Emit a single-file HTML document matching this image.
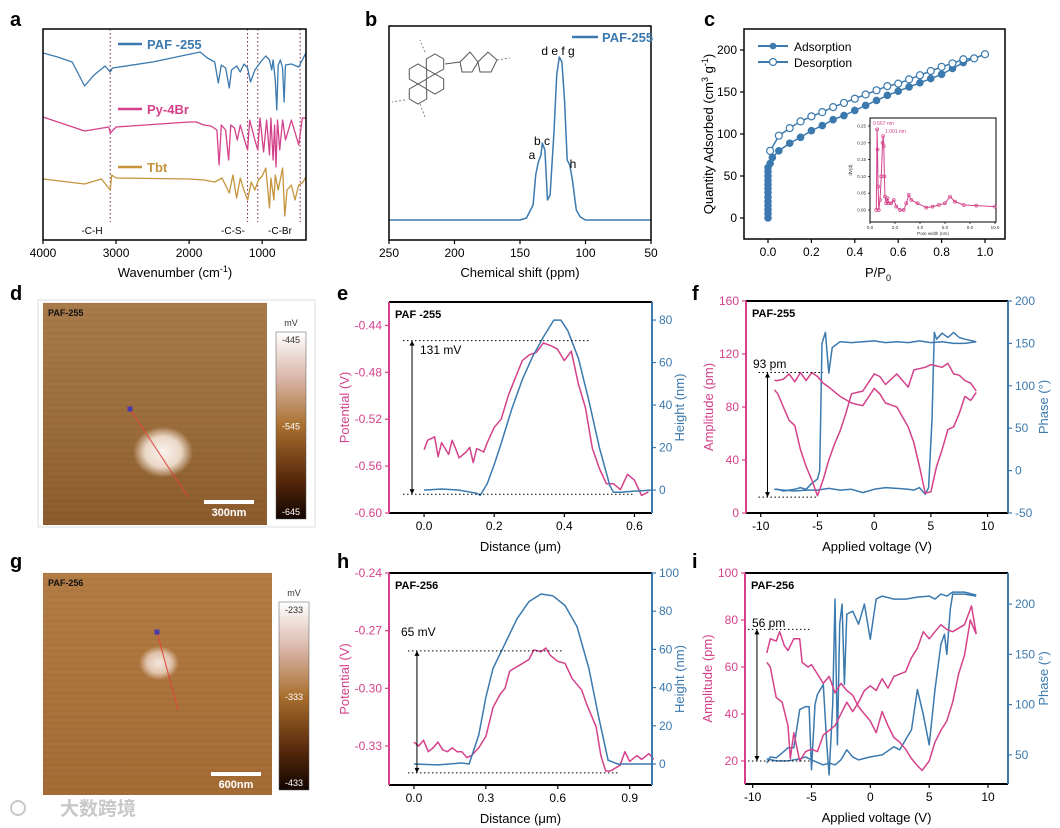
<!DOCTYPE html>
<html><head><meta charset="utf-8">
<style>
html,body{margin:0;padding:0;background:#fff;}
svg{display:block;font-family:"Liberation Sans","Noto Sans CJK SC",sans-serif;}
</style></head>
<body>
<svg id="fig" width="1060" height="828" viewBox="0 0 1060 828" xmlns="http://www.w3.org/2000/svg">
<defs>
<linearGradient id="cbar" x1="0" y1="0" x2="0" y2="1">
<stop offset="0" stop-color="#ffffff"/><stop offset="0.25" stop-color="#d9b5a8"/><stop offset="0.5" stop-color="#a9702f"/><stop offset="0.78" stop-color="#5a2a0c"/><stop offset="1" stop-color="#120500"/>
</linearGradient>
<linearGradient id="afmd" x1="0" y1="0" x2="0" y2="1">
<stop offset="0" stop-color="#a87a4a"/><stop offset="0.5" stop-color="#9c6d3c"/><stop offset="1" stop-color="#8a5a2c"/>
</linearGradient>
<linearGradient id="afmg" x1="0" y1="0" x2="0" y2="1">
<stop offset="0" stop-color="#b27c44"/><stop offset="1" stop-color="#a36a34"/>
</linearGradient>
<radialGradient id="blob"><stop offset="0" stop-color="#fbf4ee"/><stop offset="0.6" stop-color="#ead7c6"/><stop offset="1" stop-color="#ead7c6" stop-opacity="0"/></radialGradient>
<radialGradient id="blob2"><stop offset="0" stop-color="#f4e6dc"/><stop offset="0.6" stop-color="#e0c4ad"/><stop offset="1" stop-color="#e0c4ad" stop-opacity="0"/></radialGradient>
</defs>
</svg>
<script>
// ---------- DATA ----------
// a: FTIR (wavenumber, relative transmittance a.u.)
const ftirWn1 = [4000,3800,3600,3430,3300,3150,3080,3050,2500,1850,1750,1650,1600,1560,1500,1450,1420,1350,1300,1250,1200,1160,1100,1050,1000,950,900,870,850,820,800,780,750,720,700,680,600,500,430,400];
const ftirPAF = [187,183,178,154,165,174,168,172,178,188,182,178,157,175,172,152,170,174,168,176,172,158,170,175,180,184,180,170,180,160,130,175,180,172,138,175,176,173,183,187];
const ftirWn2 = [4000,3430,3100,3080,3000,2000,1900,1800,1700,1620,1590,1560,1500,1460,1430,1380,1340,1300,1250,1200,1170,1100,1060,1030,980,940,900,880,850,830,810,790,760,720,680,600,500,450,400];
const ftirPy = [123,109,113,107,113,118,118,115,114,110,75,115,110,80,115,112,100,115,102,90,120,100,90,122,88,120,85,122,80,115,73,120,90,120,100,120,95,122,122];
const ftirWn3 = [4000,3430,3200,3080,3060,3000,2000,1800,1650,1550,1450,1400,1350,1300,1250,1200,1150,1100,1050,1000,950,900,880,840,820,780,720,690,660,600,550,500,450,400];
const ftirTbt = [61,56,61,50,65,62,61,60,58,62,47,65,42,62,50,40,58,50,60,64,72,32,62,40,65,50,72,24,50,55,40,55,57,63];
const ftirTicks = [4000,3000,2000,1000];
const ftirMarks = [3080,1200,1060,480];
// b: NMR
const nmrPpm = [250,200,150,145,140,138,136,134,133,131,129,127,124,122,120,118,116,114,112,110,107,104,100,75,50];
const nmrInt = [20,20,20,22,35,65,78,85,97,90,40,45,110,165,183,178,140,80,75,60,30,23,20,20,20];
const nmrTicks = [250,200,150,100,50];
// c: isotherm
const adsP = [0,0,0,0,0,0,0,0,0,0,0,0,0,0.01,0.02,0.05,0.1,0.15,0.2,0.25,0.3,0.35,0.4,0.45,0.5,0.55,0.6,0.65,0.7,0.75,0.8,0.85,0.9,0.95,1.0];
const adsQ = [0,5,10,15,20,25,30,35,40,45,50,55,60,65,72,80,89,96,104,110,117,122,128,134,140,146,151,156,161,166,171,178,185,190,195];
const desP = [1.0,0.95,0.9,0.85,0.8,0.75,0.7,0.65,0.6,0.55,0.5,0.45,0.4,0.35,0.3,0.25,0.2,0.15,0.1,0.05,0.01];
const desQ = [195,190,189,184,180,175,170,165,160,157,152,147,142,137,132,126,121,115,107,98,80];
const cXTicks = [0,0.2,0.4,0.6,0.8,1.0];
const cYTicks = [0,50,100,150,200];
const psdW = [0.5,0.567,0.6,0.65,0.7,0.8,0.9,1.0,1.05,1.1,1.15,1.2,1.3,1.4,1.5,1.7,1.9,2.1,2.4,2.7,2.9,3.1,3.3,3.8,4.5,5.0,5.5,6.0,6.4,6.8,7.5,8.5,10];
const psdV = [0,0.24,0.18,0.07,0,0.03,0.1,0.2,0.22,0.19,0.1,0.04,0.02,0.035,0.02,0.02,0.03,0.01,0,0,0.02,0.045,0.03,0.02,0.007,0.01,0.015,0.02,0.04,0.025,0.015,0.013,0.01];
const psdXTicks = [0,2,4,6,8,10];
const psdYTicks = [0,0.05,0.10,0.15,0.20,0.25];
// e
const eDistP = [0,0.01,0.03,0.04,0.05,0.06,0.07,0.08,0.09,0.10,0.12,0.13,0.14,0.15,0.17,0.18,0.20,0.22,0.24,0.26,0.28,0.30,0.32,0.34,0.36,0.38,0.40,0.42,0.44,0.46,0.48,0.50,0.52,0.54,0.56,0.58,0.60,0.62,0.64];
const ePot = [-0.546,-0.538,-0.535,-0.552,-0.54,-0.545,-0.55,-0.538,-0.545,-0.553,-0.548,-0.544,-0.557,-0.545,-0.548,-0.54,-0.527,-0.52,-0.5,-0.485,-0.47,-0.465,-0.463,-0.455,-0.457,-0.46,-0.47,-0.462,-0.49,-0.51,-0.545,-0.562,-0.575,-0.575,-0.58,-0.567,-0.572,-0.585,-0.582];
const eDistH = [0,0.05,0.1,0.15,0.16,0.18,0.2,0.22,0.25,0.28,0.31,0.34,0.37,0.39,0.41,0.44,0.47,0.5,0.53,0.54,0.56,0.6,0.65];
const eHeight = [0,0.5,0,-1.5,-2.5,3,12,22,38,52,63,72,80,80,75,62,42,20,2,-1,-1,-0.5,0];
const eXTicks = [0,0.2,0.4,0.6];
const eYTicks = [-0.60,-0.56,-0.52,-0.48,-0.44];
const eY2Ticks = [0,20,40,60,80];
// f
const fV1 = [-8.8,-8.5,-8,-7.5,-7,-6.5,-6,-5.5,-5,-4.5,-4,-3,-2,-1,0,0.5,1,2,3,3.5,4,4.5,5,5.5,6,6.5,7,7.5,8,8.5,9];
const fAmp1 = [100,100,101,105,99,106,100,106,103,98,95,88,83,81,94,90,83,80,65,53,35,15,16,35,48,63,65,75,88,85,91];
const fV2 = [-8.8,-8.5,-8,-7.5,-7,-6.5,-6,-5.5,-5,-4.5,-4,-3.5,-3,-2.5,-2,-1.5,-1,0,0.5,1,2,3,3.5,4.5,5,6,6.5,7,7.5,8,8.5,9];
const fAmp2 = [93,90,80,70,66,48,35,25,13,25,40,52,62,75,90,91,92,105,103,97,105,95,108,110,112,110,113,105,104,100,98,92];
const fPV1 = [-8.8,-8.5,-8,-7,-6.5,-6,-5.5,-5,-4.8,-4.6,-4.3,-4,-3.7,-3,-2,-1,0,1,2,3,4,5,6,7,8,9];
const fPh1 = [-22,-22,-24,-22,-20,-22,-15,-10,0,150,163,115,145,152,151,152,153,151,152,151,153,151,152,150,150,152];
const fPV2 = [9,8,7.5,7,6.5,6,5.5,5.3,5.1,4.8,4.5,4,3.5,3,2,1,0,-1,-2,-3,-4,-5,-6,-7,-8,-8.8];
const fPh2 = [152,155,157,163,157,162,155,163,60,-20,-28,-20,-23,-22,-21,-20,-22,-26,-22,-23,-21,-23,-23,-24,-23,-22];
const fXTicks = [-10,-5,0,5,10];
const fYTicks = [0,40,80,120,160];
const fY2Ticks = [-50,0,50,100,150,200];
// h
const hDistP = [0,0.02,0.04,0.06,0.08,0.1,0.12,0.14,0.16,0.18,0.2,0.22,0.24,0.27,0.3,0.33,0.36,0.38,0.4,0.44,0.48,0.5,0.53,0.55,0.57,0.6,0.63,0.66,0.7,0.72,0.76,0.78,0.8,0.82,0.86,0.88,0.9,0.93,0.95,0.98,1.0];
const hPot = [-0.328,-0.33,-0.327,-0.333,-0.331,-0.328,-0.332,-0.333,-0.331,-0.333,-0.333,-0.336,-0.335,-0.331,-0.325,-0.31,-0.303,-0.3,-0.291,-0.288,-0.285,-0.28,-0.281,-0.279,-0.283,-0.286,-0.287,-0.295,-0.301,-0.308,-0.32,-0.335,-0.343,-0.343,-0.34,-0.333,-0.338,-0.335,-0.337,-0.334,-0.337];
const hDistH = [0,0.1,0.2,0.23,0.27,0.3,0.33,0.38,0.43,0.48,0.53,0.58,0.63,0.68,0.73,0.77,0.81,0.85,0.9,1.0];
const hHeight = [0,-0.5,0.5,0,15,35,50,63,76,85,89,88,83,72,50,25,2,0,0,0];
const hXTicks = [0,0.3,0.6,0.9];
const hYTicks = [-0.33,-0.30,-0.27,-0.24];
const hY2Ticks = [0,20,40,60,80,100];
// i
const iV1 = [-8.8,-8.5,-8,-7.7,-7.3,-7,-6.5,-6,-5.8,-5.3,-5,-4.5,-4,-3.5,-3,-2.5,-2,-1.5,-1,0,0.5,1,1.5,2,2.5,3,3.5,4,4.4,5,5.5,6,6.5,7,7.5,8,8.5,9];
const iAmp1 = [66,72,71,75,69,67,72,72,62,60,61,57,53,56,49,53,50,48,43,37,32,41,35,30,28,25,21,18,16,20,28,33,37,45,57,65,80,74];
const iV2 = [-8.8,-8.5,-8,-7.5,-7,-6.8,-6.5,-6,-5.5,-5,-4.5,-4,-3.5,-3,-2,-1.5,-1,-0.5,0,0.5,1,1.5,2,3,3.5,4,4.5,5,5.5,6,6.5,7,8,8.6,9];
const iAmp2 = [62,60,47,45,35,21,32,20,24,25,24,31,33,35,45,41,45,50,52,50,55,51,56,58,64,68,75,72,75,78,76,75,78,86,74];
const iPV1 = [-8.8,-8.5,-8,-7.5,-7,-6.5,-6,-5.5,-5.2,-5,-4.7,-4.5,-4,-3.7,-3.5,-3.2,-3,-2.8,-2.6,-2.4,-2.2,-2,-1.5,-1,-0.5,0,0.3,0.5,1,2,3,4,5,5.5,6,6.5,7,8,9];
const iPh1 = [42,48,47,52,57,57,95,98,98,35,100,110,120,60,30,100,205,60,180,200,120,190,193,180,200,165,190,205,208,205,205,207,208,205,210,208,212,212,209];
const iPV2 = [9,8,7,6.8,6.5,6.3,6,5.5,5,4.5,4,3.5,3,2.5,2,1,0,-1,-1.5,-2,-2.5,-3,-3.5,-4,-5,-5.5,-6,-7,-8,-8.8];
const iPh2 = [208,210,210,195,150,170,160,115,60,90,115,75,65,55,58,50,48,45,48,55,45,40,42,40,45,48,46,44,44,46];
const iXTicks = [-10,-5,0,5,10];
const iYTicks = [20,40,60,80,100];
const iY2Ticks = [50,100,150,200];

// ---------- HELPERS ----------
const NS = "http://www.w3.org/2000/svg";
const svg = document.getElementById('fig');
const BLUE = "#3b79ae", PINK = "#d4418a", GOLD = "#c4953c";
function lin(d0,d1,r0,r1){ return v => r0 + (v-d0)*(r1-r0)/(d1-d0); }
function mk(tag, attrs, parent, name, inter){
  const e = document.createElementNS(NS, tag);
  for (const k in attrs) e.setAttribute(k, attrs[k]);
  
  
  (parent || svg).appendChild(e);
  return e;
}
function txt(x,y,s,size,color,anchor,name,weight,rot){
  const a = {x:x,y:y,'font-size':size,fill:color||'#000','text-anchor':anchor||'middle'};
  if (weight) a['font-weight'] = weight;
  if (rot) a.transform = 'rotate('+rot+' '+x+' '+y+')';
  const t = mk('text', a, svg, name, false);
  t.textContent = s;
  return t;
}
function line(x1,y1,x2,y2,color,w,name,dash){
  const a = {x1:x1,y1:y1,x2:x2,y2:y2,stroke:color,'stroke-width':w};
  if (dash) a['stroke-dasharray'] = dash;
  return mk('line', a, svg, name, false);
}
function series(xs,ys,sx,sy,color,w,name){
  const d = xs.map((v,i)=> (i?'L':'M') + sx(v).toFixed(1) + ',' + sy(ys[i]).toFixed(1)).join(' ');
  return mk('path', {d:d,fill:'none',stroke:color,'stroke-width':w,'stroke-linejoin':'round'}, svg, name, false);
}
function xAxis(ticks, sx, yb, fmt, name, size){
  ticks.forEach(t => {
    line(sx(t), yb, sx(t), yb+4, '#000', 1.2, name+'-tick');
    txt(sx(t), yb+17, fmt(t), size||12, '#000', 'middle', name+'-label');
  });
}
function yAxis(ticks, sy, xl, fmt, color, name, right){
  ticks.forEach(t => {
    const dx = right ? 4 : -4;
    line(xl, sy(t), xl+dx, sy(t), color, 1.2, name+'-tick');
    txt(xl + (right?7:-7), sy(t)+4, fmt(t), 12, color, right?'start':'end', name+'-label');
  });
}
function panelLetter(x,y,s){ txt(x,y,s,20,'#000','start','panel-label-'+s,'bold'); }

// ---------- PANEL A ----------
(function(){
  const sx = lin(4000,400,43,306), sy = lin(0,211,240,29);
  panelLetter(10,26,'a');
  ftirMarks.forEach(w => line(sx(w),29,sx(w),222,'#7a1f3d',1,'ftir-marker-line','1.5,2.5'));
  series(ftirWn1, ftirPAF, sx, sy, BLUE, 1.3, 'ftir-paf-255');
  series(ftirWn2, ftirPy, sx, sy, PINK, 1.3, 'ftir-py-4br');
  series(ftirWn3, ftirTbt, sx, sy, GOLD, 1.3, 'ftir-tbt');
  mk('rect',{x:43,y:29,width:263,height:211,fill:'none',stroke:'#000','stroke-width':1.5},svg,'plot-frame-a',false);
  xAxis(ftirTicks, sx, 240, v=>v, 'x-tick-a', 12);
  txt(175,277,'Wavenumber (cm',13,'#000','middle','x-axis-title-a').innerHTML = 'Wavenumber (cm<tspan dy="-5" font-size="9">-1</tspan><tspan dy="5">)</tspan>';
  line(118,44,142,44,BLUE,2.5,'legend-line-paf'); txt(147,49,'PAF -255',13,BLUE,'start','legend-paf-255','bold');
  line(118,109,142,109,PINK,2.5,'legend-line-py'); txt(147,114,'Py-4Br',13,PINK,'start','legend-py-4br','bold');
  line(118,167,142,167,GOLD,2.5,'legend-line-tbt'); txt(147,172,'Tbt',13,GOLD,'start','legend-tbt','bold');
  txt(92,234,'-C-H',10,'#000','middle','annot-ch');
  txt(233,234,'-C-S-',10,'#000','middle','annot-cs');
  txt(280,234,'-C-Br',10,'#000','middle','annot-cbr');
})();

// ---------- PANEL B ----------
(function(){
  const sx = lin(250,50,389,651), sy = lin(0,214,240,26);
  panelLetter(365,26,'b');
  series(nmrPpm, nmrInt, sx, sy, BLUE, 1.5, 'nmr-paf-255');
  mk('rect',{x:389,y:26,width:262,height:214,fill:'none',stroke:'#000','stroke-width':1.5},svg,'plot-frame-b',false);
  xAxis(nmrTicks, sx, 240, v=>v, 'x-tick-b', 12);
  txt(520,277,'Chemical shift (ppm)',13,'#000','middle','x-axis-title-b');
  line(572,37,598,37,BLUE,2.5,'legend-line-b'); txt(602,42,'PAF-255',13,BLUE,'start','legend-b','bold');
  txt(558,55,'d e f g',12,'#000','middle','peak-label-defg');
  txt(542,145,'b c',12,'#000','middle','peak-label-bc');
  txt(532,159,'a',12,'#000','middle','peak-label-a');
  txt(573,168,'h',12,'#000','middle','peak-label-h');
  const hex = (cx,cy,r)=>{ let p=''; for(let k=0;k<6;k++){const a=Math.PI/6+k*Math.PI/3; p+=(cx+r*Math.cos(a)).toFixed(1)+','+(cy+r*Math.sin(a)).toFixed(1)+' ';} mk('polygon',{points:p,fill:'none',stroke:'#555','stroke-width':1},svg,'molecule-ring',false); };
  hex(418,74,10); hex(435,64,10); hex(435,84,10); hex(418,94,10);
  mk('polygon',{points:'460,62 470,52 478,62 472,72 462,72',fill:'none',stroke:'#555','stroke-width':1},svg,'molecule-thiophene',false);
  mk('polygon',{points:'478,62 488,52 497,60 491,72 480,72',fill:'none',stroke:'#555','stroke-width':1},svg,'molecule-thiophene',false);
  line(445,64,460,62,'#555',1,'molecule-bond'); line(497,60,510,58,'#888',1,'molecule-bond','2,2');
  line(405,100,392,102,'#888',1,'molecule-bond','2,2'); line(425,52,420,40,'#888',1,'molecule-bond','2,2'); line(420,104,425,117,'#888',1,'molecule-bond','2,2');
})();

// ---------- PANEL C ----------
(function(){
  const sx = lin(0,1,768,985), sy = lin(0,200,218,50);
  panelLetter(704,26,'c');
  series(adsP, adsQ, sx, sy, BLUE, 1.5, 'adsorption-line');
  series(desP, desQ, sx, sy, BLUE, 1.5, 'desorption-line');
  adsP.forEach((p,i)=>{ mk('circle',{cx:sx(p),cy:sy(adsQ[i]),r:3.3,fill:BLUE,stroke:BLUE,'stroke-width':1},svg,'adsorption-point',false); });
  desP.forEach((p,i)=>{ mk('circle',{cx:sx(p),cy:sy(desQ[i]),r:3.5,fill:'#fff',stroke:BLUE,'stroke-width':1.2},svg,'desorption-point',false); });
  mk('rect',{x:744,y:29,width:261,height:210,fill:'none',stroke:'#000','stroke-width':1.5},svg,'plot-frame-c',false);
  xAxis(cXTicks, sx, 239, v=>v.toFixed(1), 'x-tick-c', 12);
  yAxis(cYTicks, sy, 744, v=>v, '#000', 'y-tick-c', false);
  txt(878,277,'P/P',13,'#000','middle','x-axis-title-c').innerHTML='P/P<tspan dy="4" font-size="9">0</tspan>';
  txt(713,134,'',13,'#000','middle','y-axis-title-c',null,-90).innerHTML='Quantity Adsorbed (cm<tspan dy="-5" font-size="9">3</tspan><tspan dy="5"> g</tspan><tspan dy="-5" font-size="9">-1</tspan><tspan dy="5">)</tspan>';
  line(758,46,788,46,BLUE,2,'legend-line-ads'); mk('circle',{cx:773,cy:46,r:3.3,fill:BLUE},svg,'legend-marker-ads',false);
  txt(794,51,'Adsorption',12,'#000','start','legend-adsorption');
  line(758,62,788,62,BLUE,2,'legend-line-des'); mk('circle',{cx:773,cy:62,r:3.5,fill:'#fff',stroke:BLUE,'stroke-width':1.2},svg,'legend-marker-des',false);
  txt(794,67,'Desorption',12,'#000','start','legend-desorption');
  const ix = lin(0,10,870,995), iy = lin(0,0.25,210,126);
  mk('rect',{x:870,y:118,width:126,height:104,fill:'#fff',stroke:'#000','stroke-width':1},svg,'inset-frame',false);
  series(psdW, psdV, ix, iy, PINK, 1, 'psd-line');
  psdW.forEach((w,i)=>{ mk('circle',{cx:ix(w),cy:iy(psdV[i]),r:1.5,fill:'none',stroke:PINK,'stroke-width':0.7},svg,'psd-point',false); });
  psdXTicks.forEach(t=>{ line(ix(t),222,ix(t),224,'#000',0.7,'inset-x-tick'); txt(ix(t),229,t.toFixed(1),4.5,'#333','middle','inset-x-label'); });
  psdYTicks.forEach(t=>{ line(870,iy(t),868,iy(t),'#000',0.7,'inset-y-tick'); txt(866,iy(t)+1.5,t.toFixed(2),4.5,'#333','end','inset-y-label'); });
  txt(933,235,'Pore width (nm)',4.5,'#333','middle','inset-x-title');
  txt(852,170,'dV(d)',4.5,'#333','middle','inset-y-title',null,-90);
  txt(873,125,'0.567 nm',5,PINK,'start','psd-peak-1');
  txt(885,133,'1.001 nm',5,PINK,'start','psd-peak-2');
})();

// ---------- AFM IMAGES ----------
function afm(o){
  panelLetter(o.lx,o.ly,o.letter);
  if (o.frame) mk('rect',{x:o.fx,y:o.fy,width:o.fw,height:o.fh,fill:'#fff',stroke:'#ddd','stroke-width':1},svg,'afm-frame',false);
  mk('rect',{x:o.x,y:o.y,width:o.w,height:o.h,fill:o.fill},svg,'afm-image',false);
  for (let k=0;k<o.h;k+=3){ mk('line',{x1:o.x,y1:o.y+k,x2:o.x+o.w,y2:o.y+k,stroke:(k%2?'#c0905a':'#7e5022'),'stroke-opacity':0.12,'stroke-width':1},svg,'afm-scanline',false); }
  mk('ellipse',{cx:o.bx,cy:o.by,rx:o.br,ry:o.br*0.85,fill:o.blob},svg,'afm-particle',false);
  line(o.l1x,o.l1y,o.l2x,o.l2y,'#e0453a',1,'afm-profile-line');
  mk('rect',{x:o.l1x-2.5,y:o.l1y-2.5,width:5,height:5,fill:'#4a3ab0'},svg,'afm-profile-start',false);
  mk('rect',{x:o.sbx,y:o.sby,width:50,height:4,fill:'#fff'},svg,'scale-bar',false);
  txt(o.sbx+25,o.sby+16,o.sbt,11,'#fff','middle','scale-bar-label','bold');
  txt(o.x+5,o.y+13,o.name,9,'#111','start','afm-sample-label','bold');
  mk('rect',{x:o.cx,y:o.cy,width:30,height:o.ch,fill:'url(#cbar)',stroke:'#555','stroke-width':0.5},svg,'colorbar',false);
  txt(o.cx+15,o.cy-6,'mV',9,'#333','middle','colorbar-unit');
  txt(o.cx+15,o.cy+11,o.c1,9,'#333','middle','colorbar-max');
  txt(o.cx+15,o.cy+o.ch/2+4,o.c2,9,'#fff','middle','colorbar-mid');
  txt(o.cx+15,o.cy+o.ch-4,o.c3,9,'#fff','middle','colorbar-min');
}
afm({letter:'d',lx:10,ly:300,frame:true,fx:38,fy:300,fw:277,fh:227,x:43,y:303,w:224,h:222,fill:'url(#afmd)',bx:163,by:452,br:30,blob:'url(#blob)',l1x:130,l1y:409,l2x:188,l2y:497,sbx:204,sby:500,sbt:'300nm',name:'PAF-255',cx:276,cy:332,ch:187,c1:'-445',c2:'-545',c3:'-645'});
afm({letter:'g',lx:10,ly:568,frame:false,x:43,y:573,w:229,h:222,fill:'url(#afmg)',bx:159,by:663,br:20,blob:'url(#blob2)',l1x:157,l1y:632,l2x:178,l2y:710,sbx:211,sby:772,sbt:'600nm',name:'PAF-256',cx:279,cy:602,ch:188,c1:'-233',c2:'-333',c3:'-433'});

// ---------- DUAL-AXIS PANELS ----------
function dual(o){
  panelLetter(o.lx,o.ly,o.letter);
  const sx = lin(o.xd[0],o.xd[1],o.x0,o.x1), sy = lin(o.yd[0],o.yd[1],o.y1,o.y0), sy2 = lin(o.y2d[0],o.y2d[1],o.y1,o.y0);
  o.draw(sx,sy,sy2);
  line(o.x0,o.y0,o.x1,o.y0,'#000',2,'plot-top-border');
  line(o.x0,o.y1,o.x1,o.y1,'#000',2,'x-axis-line');
  line(o.x0,o.y0,o.x0,o.y1,PINK,2,'left-axis-line');
  line(o.x1,o.y0,o.x1,o.y1,BLUE,2,'right-axis-line');
  xAxis(o.xt, sx, o.y1, o.xf, 'x-tick', 12);
  yAxis(o.yt, sy, o.x0, o.yf, PINK, 'left-y-tick', false);
  yAxis(o.y2t, sy2, o.x1, v=>v, BLUE, 'right-y-tick', true);
  txt((o.x0+o.x1)/2,o.y1+38,o.xl,13,'#000','middle','x-axis-title');
  txt(o.x0-o.lo,(o.y0+o.y1)/2,o.yl,13,PINK,'middle','left-y-axis-title',null,-90);
  txt(o.x1+o.ro,(o.y0+o.y1)/2,o.y2l,13,BLUE,'middle','right-y-axis-title',null,-90);
  txt(o.x0+6,o.y0+16,o.name,11,'#000','start','sample-label','bold');
}
function annot(sx,sy,xa,xb1,xb2,vtop,vbot,label,lx,ly){
  line(sx(xa),sy(vtop),sx(xb1),sy(vtop),'#000',1,'annot-dotted-top','1.5,2.5');
  line(sx(xa),sy(vbot),sx(xb2),sy(vbot),'#000',1,'annot-dotted-bottom','1.5,2.5');
  line(sx(xa)+9,sy(vtop),sx(xa)+9,sy(vbot),'#000',1,'annot-arrow');
  mk('polygon',{points:(sx(xa)+9)+','+(sy(vtop))+' '+(sx(xa)+6.5)+','+(sy(vtop)+5)+' '+(sx(xa)+11.5)+','+(sy(vtop)+5)},svg,'annot-arrowhead',false);
  mk('polygon',{points:(sx(xa)+9)+','+(sy(vbot))+' '+(sx(xa)+6.5)+','+(sy(vbot)-5)+' '+(sx(xa)+11.5)+','+(sy(vbot)-5)},svg,'annot-arrowhead',false);
  txt(lx,ly,label,12,'#000','start','annot-label');
}
dual({letter:'e',lx:337,ly:300,x0:389,x1:652,y0:302,y1:513,xd:[-0.1,0.65],yd:[-0.60,-0.42],y2d:[-10.8,88.5],lo:40,ro:32,
  xt:eXTicks,xf:v=>v.toFixed(1),yt:eYTicks,yf:v=>v.toFixed(2),y2t:eY2Ticks,
  xl:'Distance (μm)',yl:'Potential (V)',y2l:'Height (nm)',name:'PAF -255',
  draw:(sx,sy,sy2)=>{ series(eDistP,ePot,sx,sy,PINK,1.5,'potential-line'); series(eDistH,eHeight,sx,sy2,BLUE,1.5,'height-line');
    annot(sx,sy,-0.06,0.47,0.6,-0.453,-0.584,'131 mV',420,354); }});
dual({letter:'f',lx:692,ly:300,x0:746,x1:1008,y0:301,y1:513,xd:[-11.3,11.8],yd:[0,160],y2d:[-50,200],lo:33,ro:40,
  xt:fXTicks,xf:v=>v,yt:fYTicks,yf:v=>v,y2t:fY2Ticks,
  xl:'Applied voltage (V)',yl:'Amplitude (pm)',y2l:'Phase (°)',name:'PAF-255',
  draw:(sx,sy,sy2)=>{ series(fPV1,fPh1,sx,sy2,BLUE,1.5,'phase-forward'); series(fPV2,fPh2,sx,sy2,BLUE,1.5,'phase-reverse');
    series(fV1,fAmp1,sx,sy,PINK,1.5,'amplitude-forward'); series(fV2,fAmp2,sx,sy,PINK,1.5,'amplitude-reverse');
    annot(sx,sy,-10.2,-4.5,-5,106,12,'93 pm',753,368); }});
dual({letter:'h',lx:337,ly:568,x0:389,x1:652,y0:573,y1:785,xd:[-0.104,0.993],yd:[-0.3503,-0.24],y2d:[-11,100],lo:40,ro:32,
  xt:hXTicks,xf:v=>v.toFixed(1),yt:hYTicks,yf:v=>v.toFixed(2),y2t:hY2Ticks,
  xl:'Distance (μm)',yl:'Potential (V)',y2l:'Height (nm)',name:'PAF-256',
  draw:(sx,sy,sy2)=>{ series(hDistP,hPot,sx,sy,PINK,1.5,'potential-line'); series(hDistH,hHeight,sx,sy2,BLUE,1.5,'height-line');
    annot(sx,sy,-0.025,0.62,0.85,-0.2805,-0.344,'65 mV',401,636); }});
dual({letter:'i',lx:692,ly:568,x0:745,x1:1008,y0:573,y1:784,xd:[-10.65,11.7],yd:[10.2,100],y2d:[21,231],lo:33,ro:40,
  xt:iXTicks,xf:v=>v,yt:iYTicks,yf:v=>v,y2t:iY2Ticks,
  xl:'Applied voltage (V)',yl:'Amplitude (pm)',y2l:'Phase (°)',name:'PAF-256',
  draw:(sx,sy,sy2)=>{ series(iPV1,iPh1,sx,sy2,BLUE,1.5,'phase-forward'); series(iPV2,iPh2,sx,sy2,BLUE,1.5,'phase-reverse');
    series(iV1,iAmp1,sx,sy,PINK,1.5,'amplitude-forward'); series(iV2,iAmp2,sx,sy,PINK,1.5,'amplitude-reverse');
    annot(sx,sy,-10.4,-5,-5,76,20,'56 pm',752,627); }});

// watermark
txt(98,815,'大数跨境',19,'#c8c8c8','middle','watermark','bold');
mk('circle',{cx:18,cy:808,r:7,fill:'none',stroke:'#c8c8c8','stroke-width':2},svg,'watermark-logo',false);
</script>
</body></html>
